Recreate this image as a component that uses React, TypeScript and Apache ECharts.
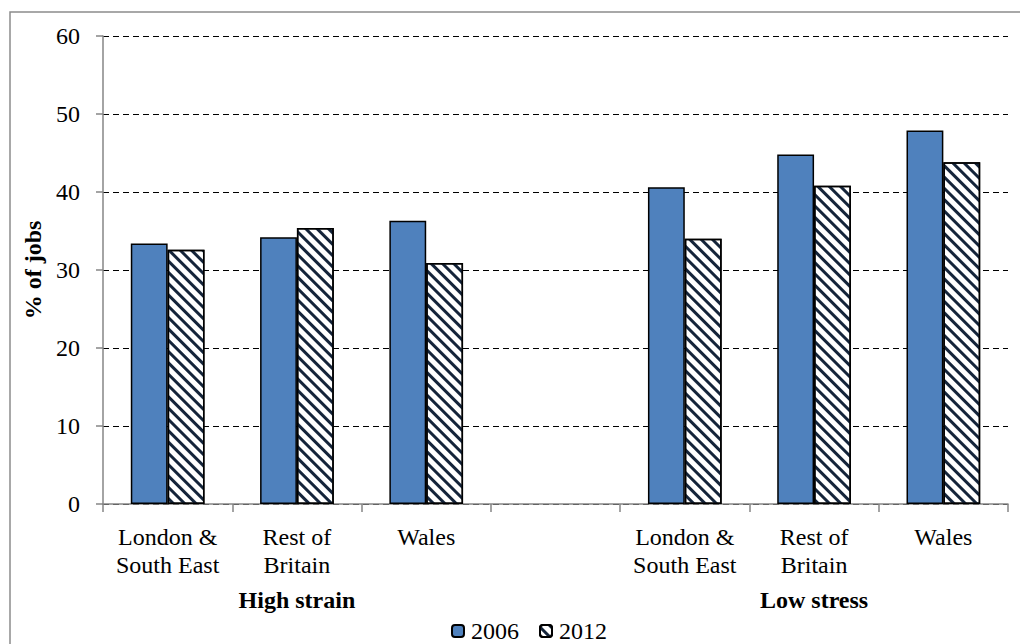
import React, { useEffect, useRef } from "react";
import * as echarts from "echarts";

const regions = [
  "London &\nSouth East",
  "Rest of\nBritain",
  "Wales",
  "",
  "London &\nSouth East",
  "Rest of\nBritain",
  "Wales",
];
const groupLabels = ["", "High strain", "", "", "", "Low stress", ""];
const values2006 = [33.4, 34.2, 36.3, null, 40.6, 44.8, 47.9];
const values2012 = [32.6, 35.4, 30.9, null, 34.0, 40.8, 43.8];
const yTicks = [0, 10, 20, 30, 40, 50, 60];

const FONT = '"Times New Roman", "Liberation Serif", "DejaVu Serif", serif';

export default function App() {
  const ref = useRef<HTMLDivElement>(null);
  useEffect(() => {
    if (!ref.current) return;
    const chart = echarts.init(ref.current, null, { renderer: "svg" });
    const gray = "#868686";
    chart.setOption({
      animation: false,
      backgroundColor: "#fff",
      textStyle: { fontFamily: FONT },
      grid: { left: 103, right: 12, top: 36, bottom: 140, containLabel: false },
      legend: {
        left: 446,
        top: 614,
        itemWidth: 12,
        itemHeight: 12,
        itemGap: 20,
        textStyle: { fontFamily: FONT, fontSize: 24, color: "#000", padding: [0, 0, 0, 2] },
        data: ["2006", "2012"],
      },
      xAxis: [
        {
          type: "category",
          data: regions.map((_, i) => String(i)),
          axisLine: { lineStyle: { color: gray, width: 1.5 } },
          axisTick: { show: true, length: 8, lineStyle: { color: gray, width: 1.5 } },
          axisLabel: {
            interval: 0,
            margin: 19,
            fontFamily: FONT,
            fontSize: 24,
            lineHeight: 28,
            color: "#000",
            formatter: (_v: string, i: number) => regions[i],
          },
        },
        {
          type: "category",
          position: "bottom",
          data: groupLabels.map((_, i) => "g" + i),
          axisLine: { show: false },
          axisTick: { show: false },
          axisLabel: {
            interval: 0,
            margin: 82,
            fontFamily: FONT,
            fontSize: 24,
            fontWeight: "bold",
            lineHeight: 28,
            color: "#000",
            formatter: (_v: string, i: number) => groupLabels[i],
          },
        },
      ],
      yAxis: {
        type: "value",
        min: yTicks[0],
        max: yTicks[yTicks.length - 1],
        interval: 10,
        name: "% of jobs",
        nameLocation: "middle",
        nameRotate: 90,
        nameGap: 57,
        nameTextStyle: { fontFamily: FONT, fontSize: 24, fontWeight: "bold", color: "#000" },
        axisLine: { show: true, lineStyle: { color: gray, width: 1.5 } },
        axisTick: { show: true, length: 7, lineStyle: { color: gray, width: 1.5 } },
        axisLabel: { margin: 23, fontFamily: FONT, fontSize: 24, color: "#000" },
        splitLine: { lineStyle: { color: "#000", type: [6, 4], width: 1 } },
      },
      series: [
        {
          name: "2006",
          type: "bar",
          data: values2006,
          barGap: "0%",
          barCategoryGap: "43%",
          itemStyle: { color: "#4F81BD", borderColor: "#000", borderWidth: 1.5 },
        },
        {
          name: "2012",
          type: "bar",
          data: values2012,
          itemStyle: {
            color: "#ffffff",
            borderColor: "#000",
            borderWidth: 1.5,
            decal: {
              symbol: "rect",
              symbolSize: 1,
              dashArrayX: [1, 0],
              dashArrayY: [3, 5],
              rotation: Math.PI / 4,
              color: "#14243a",
              backgroundColor: "#ffffff",
            },
          },
        },
      ],
      graphic: [
        {
          type: "rect",
          shape: { x: 10, y: 12, width: 1030, height: 700 },
          style: { fill: "none", stroke: "#8c8c8c", lineWidth: 1.5 },
          silent: true,
          z: 100,
        },
      ],
    });
    return () => chart.dispose();
  }, []);
  return (
    <div
      ref={ref}
      style={{ position: "absolute", left: 0, top: 0, width: 1020, height: 644 }}
    />
  );
}
